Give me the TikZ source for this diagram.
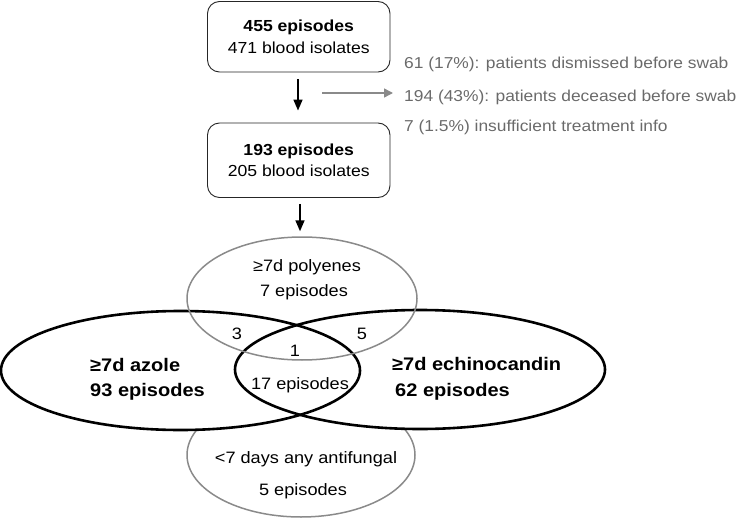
\documentclass[tikz,border=0pt]{standalone}
\usepackage{fontspec}
\setmainfont{Liberation Sans}[FakeStretch=1.1]
\usetikzlibrary{shapes.geometric,arrows.meta}
\definecolor{lgray}{HTML}{8A8A8A}
\definecolor{tgray}{HTML}{6A6A6A}
\tikzset{
  flowbox/.style={draw=black!85, line width=0.9pt, rounded corners=12pt, minimum width=182.5pt, inner sep=0pt, align=center, font=\fontsize{16}{21.5}\selectfont},
  blackarrow/.style={line width=1.6pt, -{Triangle[length=11pt,width=9pt]}},
  grayarrow/.style={draw=lgray, line width=1.5pt, -{Triangle[length=9pt,width=9pt]}, lgray},
  graytext/.style={anchor=west, text=tgray, inner sep=0pt, font=\fontsize{15.8}{19}\selectfont},
  venbig/.style={ellipse, draw=black, line width=2.6pt, inner sep=0pt},
  vengray/.style={ellipse, draw=lgray, line width=1.5pt, inner sep=0pt},
  vtext/.style={inner sep=0pt, font=\fontsize{16.5}{19}\selectfont},
  vbold/.style={inner sep=0pt, anchor=west, font=\bfseries\fontsize{18.2}{21}\selectfont}
}
\begin{document}
\begin{tikzpicture}[x=1pt,y=-1pt]
\useasboundingbox (0,0) rectangle (742,519);
% boxes
\node[flowbox, minimum height=70.5pt] (b1) at (298.75,36.75) {\textbf{455 episodes}\\471 blood isolates};
\node[flowbox, minimum height=74.5pt] (b2) at (298.75,160.25) {\textbf{193 episodes}\\205 blood isolates};
% venn ellipses
\node[vengray, minimum width=228pt, minimum height=124pt] (anyaf) at (301,455) {};
\fill[white] (180.5,370.5) ellipse [x radius=179.5, y radius=59.5];
\fill[white] (420,369.5) ellipse [x radius=185, y radius=59.5];
\node[venbig, minimum width=359pt, minimum height=119pt] (azole) at (180.5,370.5) {};
\node[venbig, minimum width=370pt, minimum height=119pt] (echino) at (420,369.5) {};
\node[vengray, minimum width=230pt, minimum height=123pt] (poly) at (302,298.5) {};
% arrows
\draw[blackarrow, shorten <=7pt, shorten >=12pt] (b1.south -| 298,0) -- (b2.north -| 298,0);
\draw[blackarrow, shorten <=6pt, shorten >=5pt] (b2.south -| 300,0) -- (poly.north -| 300,0);
\coordinate (g1) at (322,93);
\coordinate (g2) at (393,93);
\draw[grayarrow] (g1) -- (g2);
% gray texts
\node[graytext] (t1) at (404,64) {61 (17\%): patients dismissed before swab};
\node[graytext] (t2) at (404,97) {194 (43\%): patients deceased before swab};
\node[graytext] (t3) at (404,127) {7 (1.5\%) insufficient treatment info};
% venn texts
\node[vtext] (p1) at (307,267) {≥7d polyenes};
\node[vtext] (p2) at (304,292) {7 episodes};
\node[vtext] (n3) at (237,334) {3};
\node[vtext] (n5) at (362,334) {5};
\node[vtext] (n1) at (295,351) {1};
\node[vtext] (n17) at (300,385) {17 episodes};
\node[vbold] (az1) at (90,365) {≥7d azole};
\node[vbold] (az2) at (90,392) {93 episodes};
\node[vbold] (ec1) at (392,364) {≥7d echinocandin};
\node[vbold] (ec2) at (395,392) {62 episodes};
\node[vtext] (q1) at (306,459) {<7 days any antifungal};
\node[vtext] (q2) at (303,491) {5 episodes};
\end{tikzpicture}
\end{document}
